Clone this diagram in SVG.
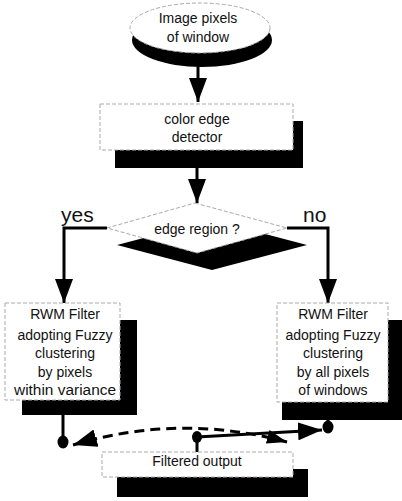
<svg xmlns="http://www.w3.org/2000/svg" width="402" height="501" viewBox="0 0 402 501">
<style>
.sh{fill:#000}
.bx{fill:#fff;stroke:#aaa;stroke-width:1;stroke-dasharray:4,2}
.t{font-family:"Liberation Sans",Arial,sans-serif;font-size:14px;fill:#111;text-anchor:middle}
.lb{font-family:"Liberation Sans",Arial,sans-serif;font-size:21px;fill:#111}
.ln{fill:none;stroke:#000;stroke-width:3}
.dot{fill:#000}
</style>
<defs>
<marker id="ah" viewBox="0 0 24 18" refX="24" refY="9" markerWidth="24" markerHeight="18" markerUnits="userSpaceOnUse" orient="auto-start-reverse">
<path d="M0,0 L24,9 L0,18 z" fill="#000"/>
</marker>
<marker id="ahs" viewBox="0 0 20 14" refX="20" refY="7" markerWidth="20" markerHeight="14" markerUnits="userSpaceOnUse" orient="auto-start-reverse">
<path d="M0,0 L20,7 L0,14 z" fill="#000"/>
</marker>
</defs>
<g id="connectors">
<path class="ln" d="M198,60 L198,102" marker-end="url(#ah)"/>
<path class="ln" d="M197,160 L197,203" marker-end="url(#ah)"/>
<path class="ln" d="M107,228 L64,228 L64,303" marker-end="url(#ah)"/>
<path class="ln" d="M287,228 L328,228 L328,303" marker-end="url(#ah)"/>
<path class="ln" d="M63,410 L63,442"/>
<ellipse class="dot" cx="63" cy="442" rx="5.5" ry="6.5"/>
<path class="ln" d="M328,415 L328,427"/>
<ellipse class="dot" cx="328" cy="427" rx="5.5" ry="6.5"/>
<path class="ln" d="M197,437 L322,430" marker-end="url(#ah)"/>
<path class="ln" d="M197,437 L197,453"/>
<ellipse class="dot" cx="197" cy="437" rx="5" ry="6"/>
<path class="ln" d="M287,442 Q180,413 73,445" stroke-dasharray="10,6" marker-start="url(#ahs)" marker-end="url(#ah)"/>
</g>
<g id="start">
<ellipse class="sh" cx="202" cy="40" rx="70" ry="27"/>
<ellipse class="bx" cx="200" cy="28" rx="70" ry="25"/>
<text class="t" x="198" y="23">Image pixels</text>
<text class="t" x="198" y="42">of window</text>
</g>
<g id="detector">
<rect class="sh" x="115" y="121" width="188" height="47"/>
<rect class="bx" x="100" y="104" width="193" height="46"/>
<text class="t" x="197" y="124">color edge</text>
<text class="t" x="197" y="142">detector</text>
</g>
<g id="decision">
<polygon class="sh" points="212,220 307,245 212,270 117,245"/>
<polygon class="bx" points="195,203 287,228 197,253 107,228"/>
<text class="t" x="197" y="234">edge region ?</text>
<text class="lb" x="61" y="222">yes</text>
<text class="lb" x="303" y="222">no</text>
</g>
<g id="filter-left">
<rect class="sh" x="22" y="320" width="115" height="95"/>
<rect class="bx" x="5" y="303" width="115" height="97"/>
<text class="t" x="65" y="319">RWM Filter</text>
<text class="t" x="65" y="340">adopting Fuzzy</text>
<text class="t" x="65" y="358">clustering</text>
<text class="t" x="65" y="377">by pixels</text>
<text class="t" x="65" y="395" textLength="102" lengthAdjust="spacingAndGlyphs">within variance</text>
</g>
<g id="filter-right">
<rect class="sh" x="282" y="320" width="120" height="100"/>
<rect class="bx" x="277" y="303" width="111" height="99"/>
<text class="t" x="333" y="319">RWM Filter</text>
<text class="t" x="333" y="340">adopting Fuzzy</text>
<text class="t" x="333" y="358">clustering</text>
<text class="t" x="333" y="377">by all pixels</text>
<text class="t" x="333" y="395">of windows</text>
</g>
<g id="output">
<rect class="sh" x="117" y="469" width="191" height="28"/>
<rect class="bx" x="102" y="452" width="191" height="25"/>
<text class="t" x="197" y="466">Filtered output</text>
</g>
</svg>
